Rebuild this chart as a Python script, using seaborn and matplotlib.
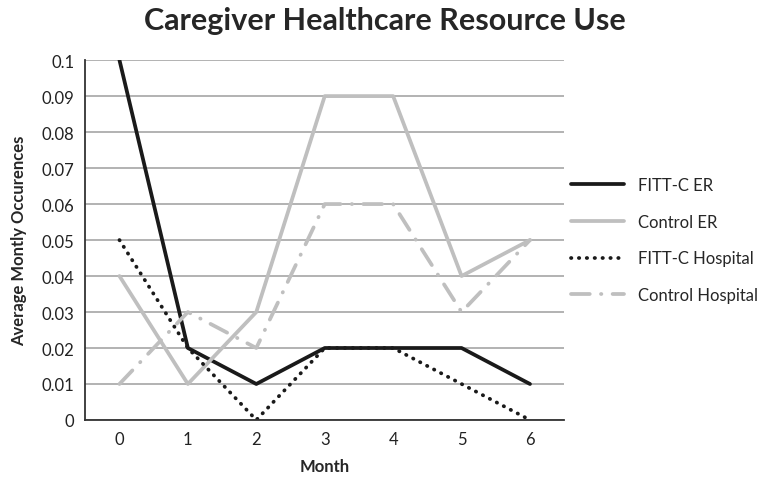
import seaborn as sns
import matplotlib.pyplot as plt
import pandas as pd

months = [0, 1, 2, 3, 4, 5, 6]
fittc_er = [0.10, 0.02, 0.01, 0.02, 0.02, 0.02, 0.01]
control_er = [0.04, 0.01, 0.03, 0.09, 0.09, 0.04, 0.05]
fittc_hosp = [0.05, 0.02, 0.00, 0.02, 0.02, 0.01, 0.00]
control_hosp = [0.01, 0.03, 0.02, 0.06, 0.06, 0.03, 0.05]

series = {
    "FITT-C ER": fittc_er,
    "Control ER": control_er,
    "FITT-C Hospital": fittc_hosp,
    "Control Hospital": control_hosp,
}
styles = {
    "FITT-C ER": dict(color="#1a1a1a", linestyle="-"),
    "Control ER": dict(color="#bfbfbf", linestyle="-"),
    "FITT-C Hospital": dict(color="#1a1a1a", linestyle=(0, (0.1, 2.0)), dash_capstyle="round"),
    "Control Hospital": dict(color="#bfbfbf", linestyle=(0, (5, 3, 0.1, 3)), dash_capstyle="round"),
}

sns.set_style("white")
plt.rcParams["font.family"] = ["Lato", "DejaVu Sans"]

fig, ax = plt.subplots(figsize=(7.75, 4.85), dpi=100)
fig.subplots_adjust(left=0.11, right=0.728, top=0.874, bottom=0.132)

for name, vals in series.items():
    df = pd.DataFrame({"Month": months, "value": vals})
    sns.lineplot(data=df, x="Month", y="value", ax=ax, label=name, linewidth=2.7, **styles[name])

ax.set_xlim(-0.5, 6.5)
ax.set_ylim(0, 0.1)
ax.set_xticks(months)
ax.set_yticks([i / 100 for i in range(11)])
ax.set_yticklabels(["0"] + [f"{i / 100:g}" for i in range(1, 11)])
ax.yaxis.grid(True, color="#a6a6a6", linewidth=1.2)
ax.set_axisbelow(True)
for s in ["top", "right"]:
    ax.spines[s].set_visible(False)
for s in ["left", "bottom"]:
    ax.spines[s].set_color("#333333")
    ax.spines[s].set_linewidth(1.3)
ax.tick_params(axis="both", labelsize=12, length=0, pad=8, colors="#222222")

ax.set_xlabel("Month", fontsize=12, fontweight="bold", labelpad=8)
ax.set_ylabel("Average Montly Occurences", fontsize=12, fontweight="bold", labelpad=10)
fig.suptitle("Caregiver Healthcare Resource Use", fontsize=22, fontweight="bold", x=0.497, y=0.985)

ax.legend(loc="center left", bbox_to_anchor=(0.99, 0.5), frameon=False, fontsize=12,
          handlelength=3.2, labelspacing=1.25, borderaxespad=0.3)

fig.savefig("out.png", dpi=100)
